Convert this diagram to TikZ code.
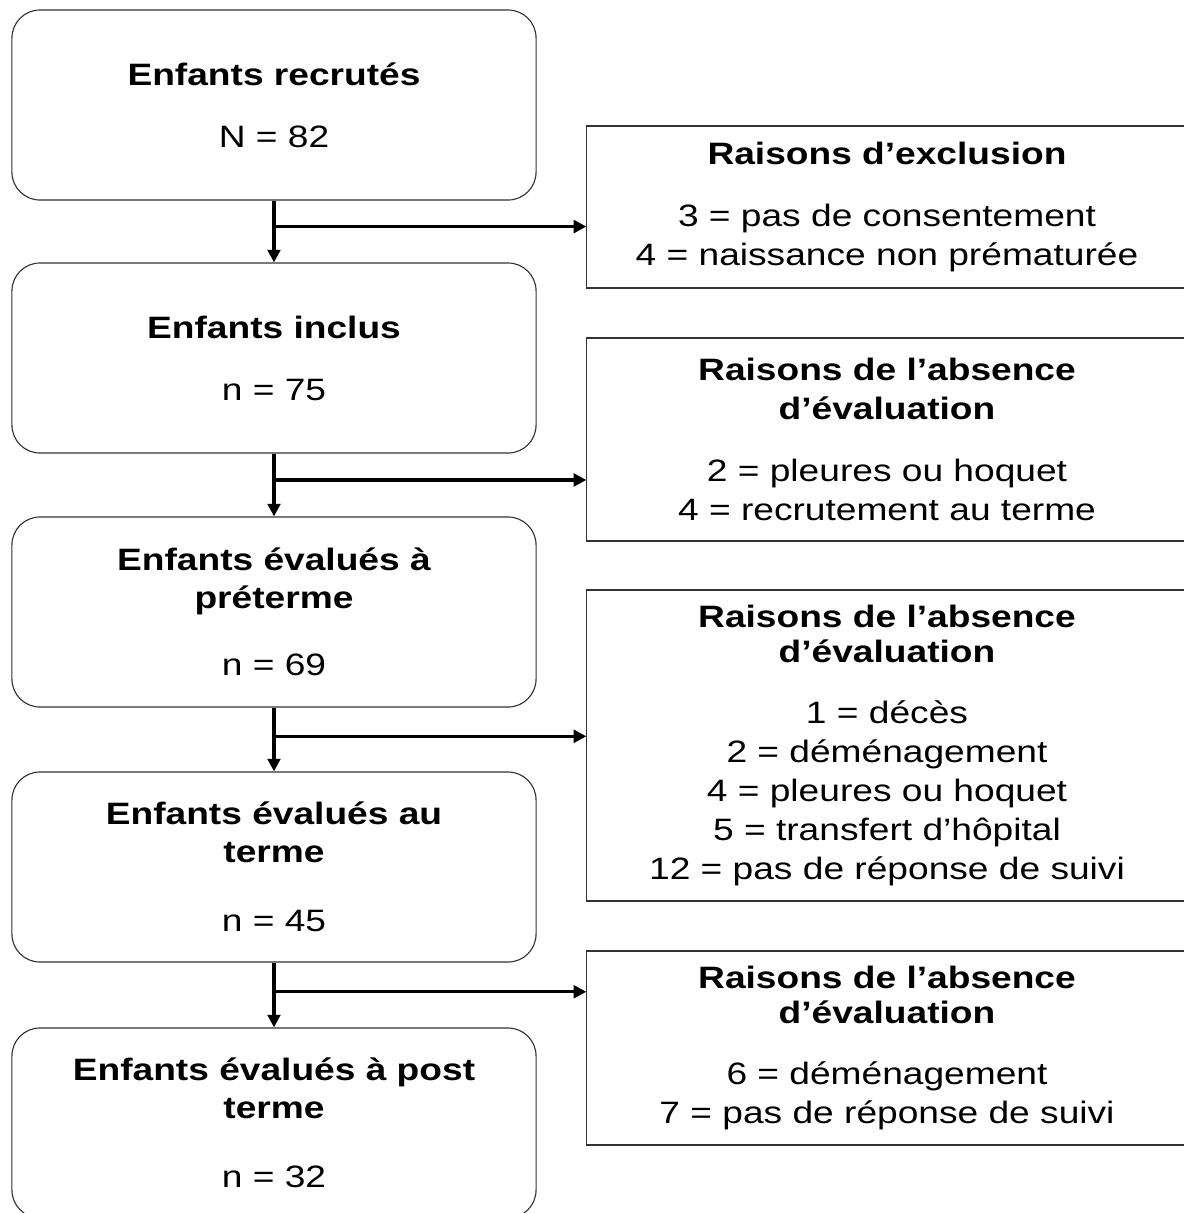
\documentclass[tikz,border=0pt]{standalone}
\usepackage{fontspec}
\setmainfont{Liberation Sans}[FakeStretch=1.2]
\usetikzlibrary{arrows.meta, positioning, calc}

\begin{document}
\begin{tikzpicture}[
    x=0.025cm, y=-0.025cm,
    % Main flow box style
    flowbox/.style={
        rectangle,
        rounded corners=0.7cm,
        draw=black!80,
        line width=0.8pt,
        minimum width=13.1cm,
        minimum height=4.75cm,
        align=center,
        font=\fontsize{22}{27}\selectfont
    },
    % Reason box style
    reasonbox/.style={
        rectangle,
        draw=black!80,
        line width=0.8pt,
        minimum width=15cm,
        align=center,
        font=\fontsize{22}{27.7}\selectfont
    },
    % Arrow style
    arrow/.style={
        -{Triangle[length=9pt, width=9pt]},
        line width=2.2pt,
        black
    }
]

\useasboundingbox (0,0) rectangle (1184,1213);

% === Main flow ===
\node[flowbox] (recrutes) at (274, 105) {\textbf{Enfants recrutés}\\[17pt] N = 82};
\node[flowbox] (inclus) at (274, 358) {\textbf{Enfants inclus}\\[17pt] n = 75};
\node[flowbox] (preterme) at (274, 612) {\textbf{Enfants évalués à}\\ \textbf{préterme}\\[21pt] n = 69};
\node[flowbox] (terme) at (274, 867) {\textbf{Enfants évalués au}\\ \textbf{terme}\\[22pt] n = 45};
\node[flowbox] (postterme) at (274, 1123) {\textbf{Enfants évalués à post}\\ \textbf{terme}\\[22pt] n = 32};

% === Reasons ===
\node[reasonbox, minimum height=4.05cm] (exclusion) at (887, 207)
    {\textbf{Raisons d’exclusion}\\[16pt] 3 = pas de consentement\\ 4 = naissance non prématurée};
\node[reasonbox, minimum height=5.075cm] (absinclus) at (887, 439.5)
    {\textbf{Raisons de l’absence}\\ \textbf{d’évaluation}\\[16pt] 2 = pleures ou hoquet\\ 4 = recrutement au terme};
\node[reasonbox, minimum height=7.775cm] (abspreterme) at (887, 745.5)
    {\textbf{Raisons de l’absence}\\[-3pt] \textbf{d’évaluation}\\[16pt] 1 = décès\\ 2 = déménagement\\ 4 = pleures ou hoquet\\ 5 = transfert d’hôpital\\ 12 = pas de réponse de suivi};
\node[reasonbox, minimum height=4.85cm] (absterme) at (887, 1048)
    {\textbf{Raisons de l’absence}\\[-3pt] \textbf{d’évaluation}\\[16pt] 6 = déménagement\\ 7 = pas de réponse de suivi};

% === Junctions ===
\coordinate (j1) at ($(recrutes.south)!0.42!(inclus.north)$);
\coordinate (j2) at ($(inclus.south)!0.42!(preterme.north)$);
\coordinate (j3) at ($(preterme.south)!0.45!(terme.north)$);
\coordinate (j4) at ($(terme.south)!0.45!(postterme.north)$);

% === Arrows down ===
\draw[arrow] (recrutes.south) -- (inclus.north);
\draw[arrow] (inclus.south) -- (preterme.north);
\draw[arrow] (preterme.south) -- (terme.north);
\draw[arrow] (terme.south) -- (postterme.north);

% === Arrows to reasons ===
\draw[arrow] (j1) -- (j1 -| exclusion.west);
\draw[arrow] (j2) -- (j2 -| absinclus.west);
\draw[arrow] (j3) -- (j3 -| abspreterme.west);
\draw[arrow] (j4) -- (j4 -| absterme.west);

\end{tikzpicture}
\end{document}
